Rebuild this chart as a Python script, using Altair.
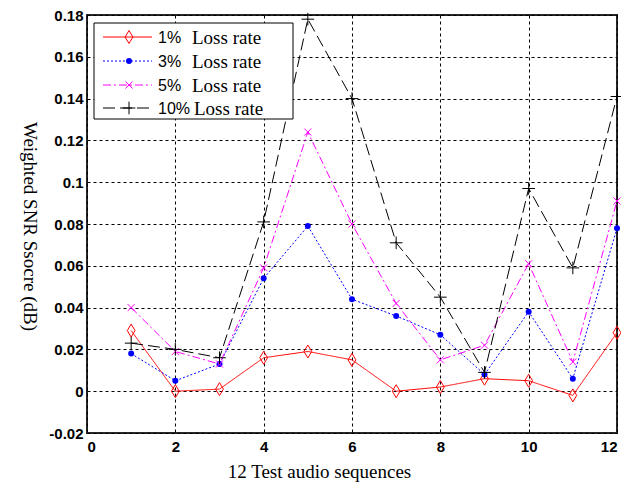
import altair as alt
import pandas as pd

# ---- data ----
sequences = list(range(1, 13))
loss_1 = [0.029, 0.000, 0.001, 0.016, 0.019, 0.015, 0.000, 0.002, 0.006, 0.005, -0.002, 0.028]
loss_3 = [0.018, 0.005, 0.013, 0.054, 0.079, 0.044, 0.036, 0.027, 0.008, 0.038, 0.006, 0.078]
loss_5 = [0.040, 0.019, 0.013, 0.059, 0.124, 0.080, 0.042, 0.015, 0.022, 0.061, 0.014, 0.091]
loss_10 = [0.023, 0.020, 0.016, 0.081, 0.178, 0.140, 0.071, 0.045, 0.009, 0.097, 0.059, 0.141]
series_names = ["1%", "3%", "5%", "10%"]
legend_suffix = "Loss rate"
x_ticks = [0, 2, 4, 6, 8, 10, 12]
y_ticks = [-0.02, 0, 0.02, 0.04, 0.06, 0.08, 0.1, 0.12, 0.14, 0.16, 0.18]
x_title = "12 Test audio sequences"
y_title = "Weighted SNR Ssocre (dB)"

all_values = [loss_1, loss_3, loss_5, loss_10]
rows = []
for name, vals in zip(series_names, all_values):
    for s, v in zip(sequences, vals):
        rows.append({"seq": s, "value": v, "series": name})
df = pd.DataFrame(rows)

# ---- styles ----
colors = ["#ff0000", "#0000ff", "#ff00ff", "#000000"]
dashes = [[1, 0], [2, 2], [8, 3, 2, 3], [12, 5]]
shapes = [
    "M0,-1L0.6,0L0,1L-0.6,0Z",
    "circle",
    "M-1,-1L1,1M-1,1L1,-1",
    "M-1,0L1,0M0,-1L0,1",
]
sizes = [169, 36, 49, 160]
filled = [False, True, False, False]

W, H = 530, 418

X = alt.X(
    "seq:Q",
    scale=alt.Scale(domain=[0, 12], nice=False, zero=False),
    axis=alt.Axis(
        values=x_ticks,
        title=x_title,
        titleX=232,
        titleY=44,
        titleBaseline="alphabetic",
        titleAlign="center",
        labelPadding=6,
        format="d",
    ),
)
Y = alt.Y(
    "value:Q",
    scale=alt.Scale(domain=[-0.02, 0.18], nice=False, zero=False),
    axis=alt.Axis(
        values=y_ticks,
        title=y_title,
        titleAngle=90,
        titleX=-58,
        titleY=211,
        titleAlign="center",
        titleBaseline="middle",
        labelPadding=4,
        labelExpr="replace(format(datum.value, '~g'), '\u2212', '-')",
    ),
)

base = alt.Chart(df)
layers = []
for name, c, d, sh, sz, f in zip(series_names, colors, dashes, shapes, sizes, filled):
    sub = base.transform_filter(alt.datum.series == name)
    layers.append(sub.mark_line(color=c, strokeDash=d, strokeWidth=1).encode(x=X, y=Y))
    layers.append(
        sub.mark_point(shape=sh, size=sz, filled=f, color=c, strokeWidth=1, opacity=1).encode(x=X, y=Y)
    )

# ---- legend (drawn inside the plot, like the MATLAB box) ----
one = pd.DataFrame({"k": [0]})
layers.append(
    alt.Chart(one)
    .mark_rect(fill="white", stroke="black", strokeWidth=1)
    .encode(x=alt.value(7), x2=alt.value(206), y=alt.value(8), y2=alt.value(104))
)
row_y = [22, 46, 70, 93]
for i, (name, c, d, sh, sz, f) in enumerate(zip(series_names, colors, dashes, shapes, sizes, filled)):
    ry = row_y[i]
    layers.append(
        alt.Chart(one)
        .mark_rule(color=c, strokeDash=d, strokeWidth=1)
        .encode(x=alt.value(16), x2=alt.value(65), y=alt.value(ry))
    )
    layers.append(
        alt.Chart(one)
        .mark_point(shape=sh, size=sz, filled=f, color=c, strokeWidth=1, opacity=1)
        .encode(x=alt.value(42), y=alt.value(ry))
    )
    layers.append(
        alt.Chart(pd.DataFrame({"t": [name]}))
        .mark_text(font="Liberation Sans", fontSize=16, align="left", baseline="middle", color="black")
        .encode(x=alt.value(71), y=alt.value(ry + 1), text="t:N")
    )
    layers.append(
        alt.Chart(pd.DataFrame({"t": [legend_suffix]}))
        .mark_text(font="Liberation Serif", fontSize=19, align="left", baseline="middle", color="black")
        .encode(x=alt.value(105 if i < 3 else 107), y=alt.value(ry + 1), text="t:N")
    )

chart = (
    alt.layer(*layers)
    .properties(
        width=W,
        height=H,
        autosize=alt.AutoSizeParams(type="none"),
        padding={"left": 87, "top": 15, "right": 4, "bottom": 50},
        background="white",
    )
    .configure_view(stroke="#262626", strokeWidth=2)
    .configure_axis(
        domain=False,
        ticks=False,
        grid=True,
        gridColor="black",
        gridDash=[3, 3],
        gridWidth=1,
        gridOpacity=1,
        labelFont="Liberation Sans",
        labelFontWeight="bold",
        labelFontSize=15,
        labelColor="black",
        titleFont="Liberation Serif",
        titleFontWeight="normal",
        titleFontSize=19,
        titleColor="black",
    )
)

chart.save("out.html", embed_options={"renderer": "svg", "actions": False})
